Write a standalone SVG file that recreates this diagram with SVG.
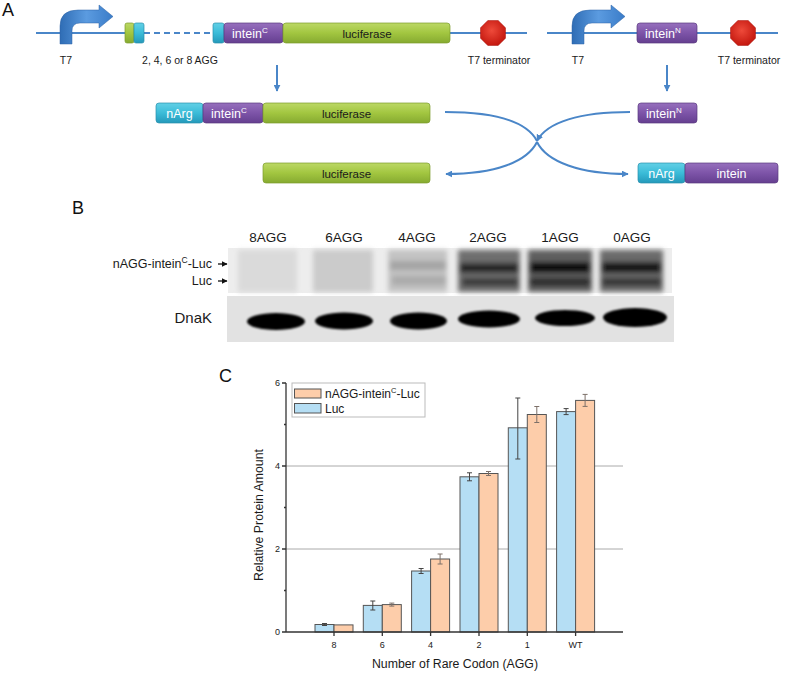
<svg xmlns="http://www.w3.org/2000/svg" width="787" height="674" viewBox="0 0 787 674">
<defs>
<linearGradient id="gGreen" x1="0" y1="0" x2="0" y2="1"><stop offset="0" stop-color="#bcd865"/><stop offset="0.5" stop-color="#a2c640"/><stop offset="1" stop-color="#86aa30"/></linearGradient>
<linearGradient id="gPurple" x1="0" y1="0" x2="0" y2="1"><stop offset="0" stop-color="#9670bd"/><stop offset="0.5" stop-color="#7d54a8"/><stop offset="1" stop-color="#653f90"/></linearGradient>
<linearGradient id="gCyan" x1="0" y1="0" x2="0" y2="1"><stop offset="0" stop-color="#62d0e6"/><stop offset="0.5" stop-color="#3bbcd8"/><stop offset="1" stop-color="#2499ba"/></linearGradient>
<linearGradient id="gArrow" x1="0" y1="0" x2="1" y2="0"><stop offset="0" stop-color="#2f6db5"/><stop offset="0.5" stop-color="#5b9be0"/><stop offset="1" stop-color="#3a7cc8"/></linearGradient>
<radialGradient id="gRed" cx="0.45" cy="0.4" r="0.6"><stop offset="0" stop-color="#ee4a3a"/><stop offset="1" stop-color="#c4180f"/></radialGradient>
<marker id="ah" viewBox="0 0 10 10" refX="9" refY="5" markerWidth="7" markerHeight="7" orient="auto" markerUnits="userSpaceOnUse"><path d="M0,0 L10,5 L0,10 Z" fill="#4a86c8"/></marker>
<marker id="ahk" viewBox="0 0 10 10" refX="9" refY="5" markerWidth="6" markerHeight="6" orient="auto" markerUnits="userSpaceOnUse"><path d="M0,0 L10,5 L0,10 Z" fill="#111"/></marker>
<filter id="blur3" x="-30%" y="-60%" width="160%" height="220%"><feGaussianBlur stdDeviation="2.5"/></filter>
<filter id="blur1" x="-10%" y="-30%" width="120%" height="160%"><feGaussianBlur stdDeviation="1"/></filter>
<path id="bent" d="M60,44 L60,26 Q60,10 78,10 L99,10 L99,5 L113,16.5 L99,28 L99,23 L80,23 Q72,23 72,31 L72,44 Z"/>
<polygon id="oct" points="12.5,5.2 5.2,12.5 -5.2,12.5 -12.5,5.2 -12.5,-5.2 -5.2,-12.5 5.2,-12.5 12.5,-5.2"/>
</defs>
<style>
.t{font-family:"Liberation Sans",Arial,sans-serif;fill:#1a1a1a}
.lbl{font-size:10.5px}
.wt{font-family:"Liberation Sans",Arial,sans-serif;fill:#fff;font-size:12.5px}
.bt{font-family:"Liberation Sans",Arial,sans-serif;fill:#1a1a1a;font-size:11.5px}
.green{fill:url(#gGreen);stroke:#7b9c2c;stroke-width:0.7}
.purple{fill:url(#gPurple);stroke:#5a3a80;stroke-width:0.7}
.cyan{fill:url(#gCyan);stroke:#2a8fae;stroke-width:0.7}
.dna{stroke:#4a86c8;stroke-width:2;fill:none}
.con{stroke:#4a86c8;stroke-width:2;fill:none}
.panel{font-family:"Liberation Sans",Arial,sans-serif;fill:#111}
.lane{font-family:"Liberation Sans",Arial,sans-serif;font-size:13.5px;fill:#1a1a1a}
.bb{fill:#b5def4;stroke:#555;stroke-width:1}
.ob{fill:#fdcdaa;stroke:#555;stroke-width:1}
.eb{stroke:#444;stroke-width:1;fill:none}
.eo{stroke:#7d7068;stroke-width:1;fill:none}
.ax{stroke:#333;stroke-width:1.3;fill:none}
.tk{font-family:"Liberation Sans",Arial,sans-serif;font-size:9px;fill:#1a1a1a}
.grid{stroke:#aaa;stroke-width:1}
</style>

<!-- Panel A -->
<text class="panel" x="2" y="16" font-size="18">A</text>
<g id="dna-lines">
<line class="dna" x1="36" y1="33" x2="126" y2="33"/>
<line class="dna" x1="144" y1="33" x2="213" y2="33" stroke-dasharray="6,4"/>
<line class="dna" x1="450" y1="33" x2="527" y2="33"/>
<line class="dna" x1="547" y1="33" x2="778" y2="33"/>
</g>
<g id="t7-left"><use href="#bent" fill="url(#gArrow)" stroke="#2c63a5" stroke-width="0.5"/><text class="t lbl" x="66" y="64" text-anchor="middle">T7</text></g>
<g id="agg-boxes">
<rect class="green" x="125" y="23" width="9" height="20" rx="2"/>
<rect class="cyan" x="134" y="23" width="10" height="20" rx="2"/>
<text class="t lbl" x="180" y="64" text-anchor="middle">2, 4, 6 or 8 AGG</text>
</g>
<g id="construct1">
<rect class="cyan" x="213" y="23" width="11" height="20" rx="2"/>
<rect class="purple" x="224" y="23" width="59" height="20" rx="3"/>
<text class="wt" x="232" y="38">intein<tspan font-size="8" dy="-5">C</tspan></text>
<rect class="green" x="283" y="23" width="167" height="20" rx="3"/>
<text class="bt" x="367" y="37.5" text-anchor="middle">luciferase</text>
</g>
<g id="term-left"><use href="#oct" transform="translate(493,33)" fill="url(#gRed)" stroke="#a8140c" stroke-width="0.5"/><text class="t lbl" x="499" y="64" text-anchor="middle">T7 terminator</text></g>
<g id="t7-right"><use href="#bent" transform="translate(512,0)" fill="url(#gArrow)" stroke="#2c63a5" stroke-width="0.5"/><text class="t lbl" x="578" y="64" text-anchor="middle">T7</text></g>
<g id="inteinN-gene"><rect class="purple" x="637" y="23" width="60" height="20" rx="3"/><text class="wt" x="645" y="38">intein<tspan font-size="8" dy="-5">N</tspan></text></g>
<g id="term-right"><use href="#oct" transform="translate(743,33)" fill="url(#gRed)" stroke="#a8140c" stroke-width="0.5"/><text class="t lbl" x="749" y="64" text-anchor="middle">T7 terminator</text></g>

<g id="fusion-protein">
<rect class="cyan" x="156" y="103" width="47" height="20" rx="3"/>
<text class="wt" x="179.5" y="118" text-anchor="middle">nArg</text>
<rect class="purple" x="203" y="103" width="60" height="20" rx="3"/>
<text class="wt" x="211" y="118">intein<tspan font-size="8" dy="-5">C</tspan></text>
<rect class="green" x="263" y="103" width="167" height="20" rx="3"/>
<text class="bt" x="346.5" y="117.5" text-anchor="middle">luciferase</text>
</g>
<g id="inteinN-protein"><rect class="purple" x="638" y="103" width="59" height="20" rx="3"/><text class="wt" x="646" y="118">intein<tspan font-size="8" dy="-5">N</tspan></text></g>
<g id="luciferase-product"><rect class="green" x="263" y="163" width="167" height="20" rx="3"/><text class="bt" x="346.5" y="177.5" text-anchor="middle">luciferase</text></g>
<g id="nArg-intein-product">
<rect class="cyan" x="638" y="163" width="47" height="20" rx="3"/>
<text class="wt" x="661.5" y="178" text-anchor="middle">nArg</text>
<rect class="purple" x="685" y="163" width="93" height="20" rx="3"/>
<text class="wt" x="731.5" y="178" text-anchor="middle">intein</text>
</g>
<g id="connectors">
<line class="con" x1="277" y1="65" x2="277" y2="91" marker-end="url(#ah)"/>
<line class="con" x1="667" y1="65" x2="667" y2="91" marker-end="url(#ah)"/>
<path class="con" d="M445,112 C495,112 527,122 537,141"/>
<path class="con" d="M630,112 C580,112 547,122 537,141" marker-end="url(#ah)"/>
<path class="con" d="M537,142 C527,162 495,174 446,174" marker-end="url(#ah)"/>
<path class="con" d="M537,142 C547,162 580,174 628,174" marker-end="url(#ah)"/>
</g>

<!-- Panel B -->
<text class="panel" x="72" y="214" font-size="18">B</text>
<g id="lane-labels">
<text class="lane" x="268" y="242" text-anchor="middle">8AGG</text>
<text class="lane" x="344" y="242" text-anchor="middle">6AGG</text>
<text class="lane" x="417" y="242" text-anchor="middle">4AGG</text>
<text class="lane" x="488" y="242" text-anchor="middle">2AGG</text>
<text class="lane" x="560" y="242" text-anchor="middle">1AGG</text>
<text class="lane" x="632" y="242" text-anchor="middle">0AGG</text>
</g>
<g id="gel-upper">
<rect x="228" y="248" width="444" height="45" fill="#ededed"/>
<g filter="url(#blur3)">
<rect x="238" y="250" width="59" height="42" fill="#dadada"/>
<rect x="313" y="250" width="60" height="42" fill="#cbcbcb"/>
<rect x="388" y="250" width="59" height="42" fill="#c2c2c2"/>
<rect x="390" y="261" width="56" height="9" fill="#a4a4a4"/>
<rect x="392" y="276" width="54" height="9" fill="#ababab"/>
<rect x="458" y="250" width="62" height="42" fill="#6e6e6e"/>
<rect x="460" y="263" width="58" height="10" fill="#262626"/>
<rect x="462" y="278" width="56" height="8" fill="#3a3a3a"/>
<rect x="528" y="250" width="64" height="42" fill="#5e5e5e"/>
<rect x="530" y="262" width="60" height="11" fill="#080808"/>
<rect x="530" y="278" width="60" height="8" fill="#2c2c2c"/>
<rect x="600" y="250" width="63" height="42" fill="#6a6a6a"/>
<rect x="602" y="262" width="59" height="11" fill="#121212"/>
<rect x="602" y="278" width="59" height="8" fill="#363636"/>
</g>
</g>
<g id="gel-labels">
<text class="t" font-size="12.5" x="212" y="268" text-anchor="end">nAGG-intein<tspan font-size="8.5" dy="-5">C</tspan><tspan dy="5">-Luc</tspan></text>
<line x1="218" y1="264" x2="227" y2="264" stroke="#111" stroke-width="1.3" marker-end="url(#ahk)"/>
<text class="t" font-size="12.5" x="212" y="285" text-anchor="end">Luc</text>
<line x1="218" y1="281" x2="227" y2="281" stroke="#111" stroke-width="1.3" marker-end="url(#ahk)"/>
<text class="t" font-size="15" x="212" y="323" text-anchor="end">DnaK</text>
</g>
<g id="gel-dnak">
<rect x="227" y="296" width="447" height="46" fill="#e2e2e2"/>
<g filter="url(#blur1)" fill="#050505">
<ellipse cx="276" cy="321.5" rx="29" ry="8.5"/>
<ellipse cx="344" cy="321" rx="29" ry="8.5"/>
<ellipse cx="418.5" cy="321" rx="28.5" ry="8.5"/>
<ellipse cx="489" cy="319" rx="31" ry="8.5"/>
<ellipse cx="565" cy="318" rx="30" ry="8"/>
<ellipse cx="635" cy="317.5" rx="32" ry="9.5"/>
</g>
</g>

<!-- Panel C -->
<text class="panel" x="219" y="382" font-size="18">C</text>
<g id="chart-grid">
<line class="grid" x1="286" y1="466" x2="623" y2="466"/>
<line class="grid" x1="286" y1="549" x2="623" y2="549"/>
</g>
<g id="bars">
<rect class="bb" x="315" y="624.5" width="19" height="7.5"/><rect class="ob" x="334" y="624.9" width="19" height="7.1"/>
<rect class="bb" x="363.3" y="605.4" width="19" height="26.6"/><rect class="ob" x="382.3" y="604.6" width="19" height="27.4"/>
<rect class="bb" x="411.6" y="571" width="19" height="61"/><rect class="ob" x="430.6" y="559" width="19" height="73"/>
<rect class="bb" x="460" y="476.8" width="19" height="155.2"/><rect class="ob" x="479" y="473.5" width="19" height="158.5"/>
<rect class="bb" x="508.3" y="427.8" width="19" height="204.2"/><rect class="ob" x="527.3" y="414.5" width="19" height="217.5"/>
<rect class="bb" x="556.6" y="411.6" width="19" height="220.4"/><rect class="ob" x="575.6" y="400.4" width="19" height="231.6"/>
</g>
<g id="error-bars">
<path class="eb" d="M324.5,623.5 V625.5 M322,623.5 H327 M322,625.5 H327"/>
<path class="eb" d="M372.8,601 V610 M370.3,601 H375.3 M370.3,610 H375.3"/>
<path class="eo" d="M391.8,603.1 V606.1 M389.3,603.1 H394.3 M389.3,606.1 H394.3"/>
<path class="eb" d="M421.1,568.5 V573.5 M418.6,568.5 H423.6 M418.6,573.5 H423.6"/>
<path class="eo" d="M440.1,554 V564 M437.6,554 H442.6 M437.6,564 H442.6"/>
<path class="eb" d="M469.5,472.8 V480.8 M467,472.8 H472 M467,480.8 H472"/>
<path class="eo" d="M488.5,471.5 V475.5 M486,471.5 H491 M486,475.5 H491"/>
<path class="eb" d="M517.8,398 V459 M515.3,398 H520.3 M515.3,459 H520.3"/>
<path class="eo" d="M536.8,406.5 V422.5 M534.3,406.5 H539.3 M534.3,422.5 H539.3"/>
<path class="eb" d="M566.1,408.6 V414.6 M563.6,408.6 H568.6 M563.6,414.6 H568.6"/>
<path class="eo" d="M585.1,394.4 V406.4 M582.6,394.4 H587.6 M582.6,406.4 H587.6"/>
</g>
<g id="axes">
<line class="ax" x1="286" y1="383" x2="286" y2="632"/>
<line class="ax" x1="286" y1="632" x2="623" y2="632"/>
<path class="ax" d="M282,383 H286 M282,466 H286 M282,549 H286 M282,632 H286 M284,424.5 H286 M284,507.5 H286 M284,590.5 H286"/>
<path class="ax" d="M334,632 V636 M382.3,632 V636 M430.6,632 V636 M479,632 V636 M527.3,632 V636 M575.6,632 V636"/>
<text class="tk" x="280" y="386" text-anchor="end">6</text>
<text class="tk" x="280" y="469" text-anchor="end">4</text>
<text class="tk" x="280" y="552" text-anchor="end">2</text>
<text class="tk" x="280" y="635" text-anchor="end">0</text>
<text class="tk" x="334" y="648" text-anchor="middle">8</text>
<text class="tk" x="382.3" y="648" text-anchor="middle">6</text>
<text class="tk" x="430.6" y="648" text-anchor="middle">4</text>
<text class="tk" x="479" y="648" text-anchor="middle">2</text>
<text class="tk" x="527.3" y="648" text-anchor="middle">1</text>
<text class="tk" x="575.6" y="648" text-anchor="middle">WT</text>
<text class="t" font-size="12.3" x="455" y="668" text-anchor="middle">Number of Rare Codon (AGG)</text>
<text class="t" font-size="12.3" x="263" y="515" text-anchor="middle" transform="rotate(-90 263 515)">Relative Protein Amount</text>
</g>
<g id="legend">
<rect x="292" y="383" width="133" height="34" fill="#fff" stroke="#bbb" stroke-width="1"/>
<rect class="ob" x="294.5" y="389" width="26.5" height="9"/>
<rect class="bb" x="294.5" y="403.5" width="26.5" height="9.5"/>
<text class="t" font-size="12" x="325" y="398">nAGG-intein<tspan font-size="7.5" dy="-5">C</tspan><tspan dy="5">-Luc</tspan></text>
<text class="t" font-size="12" x="325" y="413">Luc</text>
</g>
</svg>
